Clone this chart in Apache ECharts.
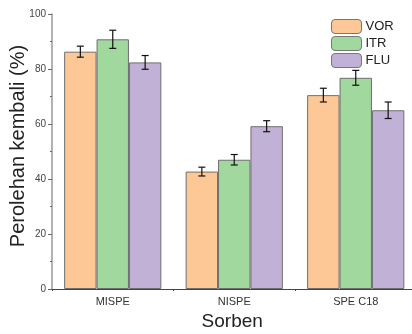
<!DOCTYPE html>
<html>
<head>
<meta charset="utf-8">
<script src="https://cdn.jsdelivr.net/npm/echarts@6/dist/echarts.min.js"></script>
<style>html,body{margin:0;padding:0;background:#fff}#c{width:412px;height:334px}</style>
</head>
<body>
<div id="c"></div>
<script>
const categories = ['MISPE', 'NISPE', 'SPE C18'];
const seriesNames = ['VOR', 'ITR', 'FLU'];
const vorValues = [86.3, 42.7, 70.5];
const itrValues = [90.8, 47.0, 76.8];
const fluValues = [82.4, 59.2, 65.0];
const vorErrors = [2.0, 1.6, 2.5];
const itrErrors = [3.3, 1.9, 2.7];
const fluErrors = [2.5, 2.0, 3.0];
const yTicks = [0, 20, 40, 60, 80, 100];

const colors = ['#FDC895', '#A0D89D', '#C2B1D7'];
const values = [vorValues, itrValues, fluValues];
const errors = [vorErrors, itrErrors, fluErrors];

const chart = echarts.init(document.getElementById('c'), null, {renderer: 'canvas'});

function errorSeries(idx) {
  const data = categories.map((c, i) => [i, values[idx][i] - errors[idx][i], values[idx][i] + errors[idx][i]]);
  return {
    type: 'custom',
    name: seriesNames[idx] + '_err',
    xAxisIndex: 0,
    yAxisIndex: 0,
    z: 10,
    silent: true,
    data: data,
    renderItem: function (params, api) {
      const band = api.size([1, 0])[0];
      const bw = band * 0.8 / 3;
      const off = (idx - 1) * bw;
      const lo = api.coord([api.value(0), api.value(1)]);
      const hi = api.coord([api.value(0), api.value(2)]);
      const x = lo[0] + off;
      const cap = 3.5;
      const style = {stroke: '#111', lineWidth: 1.2};
      return {
        type: 'group',
        children: [
          {type: 'line', shape: {x1: x, y1: lo[1], x2: x, y2: hi[1]}, style: style},
          {type: 'line', shape: {x1: x - cap, y1: lo[1], x2: x + cap, y2: lo[1]}, style: style},
          {type: 'line', shape: {x1: x - cap, y1: hi[1], x2: x + cap, y2: hi[1]}, style: style}
        ]
      };
    }
  };
}

const barSeries = seriesNames.map((n, idx) => ({
  type: 'bar',
  name: n,
  data: values[idx],
  barGap: '0%',
  barCategoryGap: '20%',
  itemStyle: {color: colors[idx], borderColor: '#6f6f6f', borderWidth: 1},
  emphasis: {disabled: true}
}));

chart.setOption({
  animation: false,
  textStyle: {fontFamily: 'Liberation Sans, Arial, sans-serif'},
  grid: {left: 52, top: 14, bottom: 45, width: 364.5, containLabel: false, outerBoundsMode: 'none'},
  legend: {
    data: seriesNames,
    orient: 'vertical',
    left: 331,
    top: 19,
    itemWidth: 30,
    itemHeight: 14,
    itemGap: 2,
    textStyle: {fontSize: 13, color: '#222', padding: [0, 0, 0, -1]},
    itemStyle: {borderColor: '#777', borderWidth: 1},
    padding: 0
  },
  xAxis: [{
    type: 'category',
    data: categories,
    name: 'Sorben',
    nameLocation: 'middle',
    nameGap: 23,
    nameMoveOverlap: false,
    nameTextStyle: {fontSize: 19, color: '#222', padding: [0, 0, 0, -4]},
    axisLine: {lineStyle: {color: '#444', width: 1.2}},
    axisTick: {alignWithLabel: true, length: 4, lineStyle: {color: '#444'}},
    axisLabel: {fontSize: 11, color: '#333', margin: 7}
  }, {
    type: 'category',
    data: categories,
    position: 'bottom',
    axisLine: {show: false},
    axisTick: {show: true, length: 2, lineStyle: {color: '#444'}},
    axisLabel: {show: false}
  }],
  yAxis: {
    type: 'value',
    min: 0,
    max: 100,
    interval: 20,
    name: 'Perolehan kembali (%)',
    nameLocation: 'middle',
    nameGap: 24,
    nameMoveOverlap: false,
    nameTextStyle: {fontSize: 20, color: '#222', padding: [0, 0, 0, 11]},
    axisLine: {show: true, lineStyle: {color: '#999', width: 1.5}},
    axisTick: {show: true, length: 4, lineStyle: {color: '#666'}},
    minorTick: {show: true, splitNumber: 2, length: 2, lineStyle: {color: '#666'}},
    splitLine: {show: false},
    axisLabel: {fontSize: 10, color: '#444', margin: 6,
      formatter: v => yTicks.includes(v) ? String(v) : ''}
  },
  series: [...barSeries, errorSeries(0), errorSeries(1), errorSeries(2)]
});
</script>
</body>
</html>
